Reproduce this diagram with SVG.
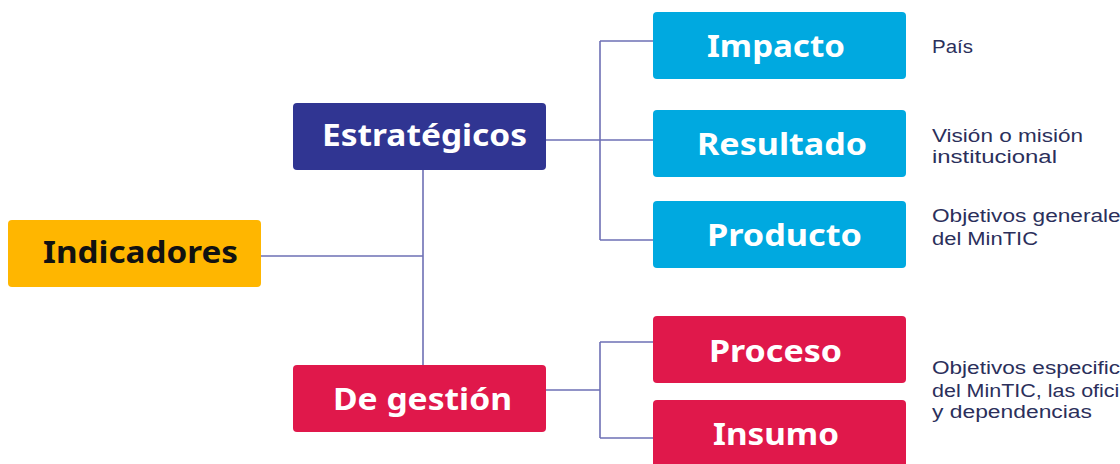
<svg xmlns="http://www.w3.org/2000/svg" width="1120" height="464" viewBox="0 0 1120 464">
<style>
.box{stroke:none}
.lbl{font-family:"Noto Sans","Open Sans",sans-serif;font-weight:700;font-size:30px;fill:#fff;text-anchor:middle}
.desc{font-family:"Liberation Sans",Arial,sans-serif;font-size:17.5px;fill:#2B2F5B}
.conn{fill:none;stroke:#6E70B5;stroke-width:1.6}
</style>
<rect width="1120" height="464" fill="#fff"/>
<g id="connectors">
<path class="conn" d="M261 256H423M423 170V372"/>
<path class="conn" d="M546 140H653M600 41V240M600 41H653M600 240H653"/>
<path class="conn" d="M546 390H600M600 342V438M600 342H653M600 438H653"/>
</g>
<g id="indicadores"><rect class="box" x="8" y="220" width="253" height="67" rx="4" fill="#FFB600"/><text class="lbl" x="140.5" y="263" style="fill:#111" textLength="195" lengthAdjust="spacingAndGlyphs">Indicadores</text></g>
<g id="estrategicos"><rect class="box" x="293" y="103" width="253" height="67" rx="4" fill="#303592"/><text class="lbl" x="424.5" y="146" textLength="205" lengthAdjust="spacingAndGlyphs">Estratégicos</text></g>
<g id="degestion"><rect class="box" x="293" y="365" width="253" height="67" rx="4" fill="#E0184B"/><text class="lbl" x="422.5" y="410" textLength="179" lengthAdjust="spacingAndGlyphs">De gestión</text></g>
<g id="impacto"><rect class="box" x="653" y="12" width="253" height="67" rx="4" fill="#00A9E0"/><text class="lbl" x="776" y="57" textLength="138" lengthAdjust="spacingAndGlyphs">Impacto</text></g>
<g id="resultado"><rect class="box" x="653" y="110" width="253" height="67" rx="4" fill="#00A9E0"/><text class="lbl" x="782" y="155" textLength="170" lengthAdjust="spacingAndGlyphs">Resultado</text></g>
<g id="producto"><rect class="box" x="653" y="201" width="253" height="67" rx="4" fill="#00A9E0"/><text class="lbl" x="784.5" y="246" textLength="155" lengthAdjust="spacingAndGlyphs">Producto</text></g>
<g id="proceso"><rect class="box" x="653" y="316" width="253" height="67" rx="4" fill="#E0184B"/><text class="lbl" x="775.5" y="362" textLength="133" lengthAdjust="spacingAndGlyphs">Proceso</text></g>
<g id="insumo"><rect class="box" x="653" y="400" width="253" height="70" rx="4" fill="#E0184B"/><text class="lbl" x="776" y="445" textLength="126" lengthAdjust="spacingAndGlyphs">Insumo</text></g>
<g id="desc-impacto"><text class="desc" x="932" y="53" textLength="41" lengthAdjust="spacingAndGlyphs">País</text></g>
<g id="desc-resultado"><text class="desc" x="932" y="142" textLength="151" lengthAdjust="spacingAndGlyphs">Visión o misión</text><text class="desc" x="932" y="163" textLength="125" lengthAdjust="spacingAndGlyphs">institucional</text></g>
<g id="desc-producto"><text class="desc" x="932" y="222" textLength="200" lengthAdjust="spacingAndGlyphs">Objetivos generales</text><text class="desc" x="932" y="245" textLength="106" lengthAdjust="spacingAndGlyphs">del MinTIC</text></g>
<g id="desc-gestion"><text class="desc" x="932" y="374" textLength="212" lengthAdjust="spacingAndGlyphs">Objetivos especificos</text><text class="desc" x="932" y="397" textLength="222" lengthAdjust="spacingAndGlyphs">del MinTIC, las oficinas</text><text class="desc" x="932" y="418" textLength="160" lengthAdjust="spacingAndGlyphs">y dependencias</text></g>
</svg>
